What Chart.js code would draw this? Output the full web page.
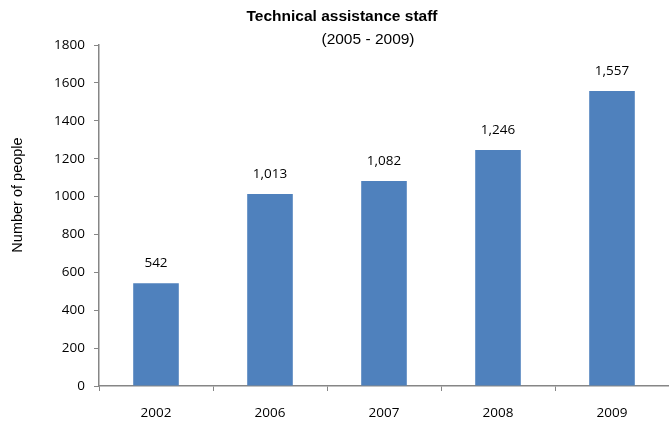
<!DOCTYPE html>
<html>
<head>
<meta charset="utf-8">
<script src="https://cdn.jsdelivr.net/npm/chart.js@4"></script>
<style>
  html, body { margin: 0; padding: 0; background: #fff; }
  #wrap { width: 669px; height: 426px; }
</style>
</head>
<body>
<div id="wrap"><canvas id="staffChart" width="669" height="426"></canvas></div>
<script>
// Chart data
const years = ['2002', '2006', '2007', '2008', '2009'];
const staffCounts = [542, 1013, 1082, 1246, 1557];
const yTicks = [0, 200, 400, 600, 800, 1000, 1200, 1400, 1600, 1800];

const titleText = 'Technical assistance staff';
const subtitleText = '(2005 - 2009)';
const yAxisTitle = 'Number of people';

// Draws the title lines, the y axis title and the value above each bar
const labelsPlugin = {
    id: 'labelsPlugin',
    afterDatasetsDraw(chart) {
        const ctx = chart.ctx;
        ctx.save();
        ctx.fillStyle = '#000';
        ctx.textAlign = 'center';
        ctx.textBaseline = 'middle';
        ctx.font = 'bold 15.5px "Liberation Sans", Arial, sans-serif';
        ctx.fillText(titleText, 342, 17);
        ctx.font = '15.5px "Liberation Sans", Arial, sans-serif';
        ctx.fillText(subtitleText, 368, 40);

        // value labels
        ctx.font = '13.5px "Open Sans", sans-serif';
        const meta = chart.getDatasetMeta(0);
        meta.data.forEach((bar, i) => {
            ctx.fillText(staffCounts[i].toLocaleString('en-US'), bar.x, bar.y - 20);
        });

        // y axis title
        ctx.font = '14.5px "Liberation Sans", Arial, sans-serif';
        ctx.translate(18, 195);
        ctx.rotate(-Math.PI / 2);
        ctx.fillText(yAxisTitle, 0, 0);
        ctx.restore();
    }
};

const ctx = document.getElementById('staffChart').getContext('2d');
new Chart(ctx, {
    type: 'bar',
    data: {
        labels: years,
        datasets: [{
            label: 'Staff',
            data: staffCounts,
            backgroundColor: '#4F81BD',
            borderWidth: 0,
            categoryPercentage: 1.0,
            barPercentage: 0.4
        }]
    },
    options: {
        responsive: false,
        animation: false,
        layout: { padding: { top: 45, left: 0, right: 0, bottom: 0 } },
        plugins: {
            legend: { display: false },
            tooltip: { enabled: false }
        },
        scales: {
            x: {
                offset: true,
                grid: {
                    display: true,
                    offset: true,
                    drawOnChartArea: false,
                    drawTicks: true,
                    tickLength: 5,
                    color: '#868686'
                },
                border: { color: '#868686', width: 1.5 },
                ticks: {
                    color: '#000',
                    padding: 14,
                    font: { family: '"Open Sans", sans-serif', size: 13.5 }
                },
                afterFit(scale) { scale.height = 40; }
            },
            y: {
                min: 0,
                max: 1800,
                afterBuildTicks(scale) {
                    scale.ticks = yTicks.map(v => ({ value: v }));
                },
                grid: {
                    display: true,
                    drawOnChartArea: false,
                    drawTicks: true,
                    tickLength: 5,
                    color: '#868686'
                },
                border: { color: '#868686', width: 1.5 },
                ticks: {
                    color: '#000',
                    padding: 9,
                    font: { family: '"Open Sans", sans-serif', size: 13.5 },
                    callback: (value) => String(value)
                },
                afterFit(scale) { scale.width = 99; }
            }
        }
    },
    plugins: [labelsPlugin]
});
</script>
</body>
</html>
